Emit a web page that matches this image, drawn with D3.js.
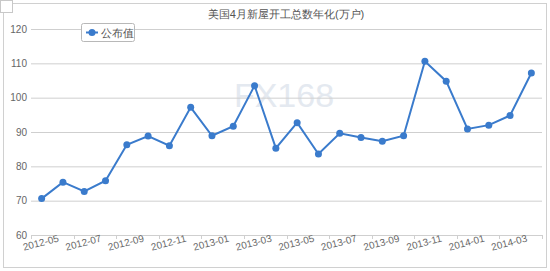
<!DOCTYPE html>
<html>
<head>
<meta charset="utf-8">
<script src="https://cdn.jsdelivr.net/npm/d3@7"></script>
<style>
  body { margin: 0; background: #fff; }
  svg { display: block; font-family: "Liberation Sans", Arial, sans-serif; }
</style>
</head>
<body>
<div id="chart"></div>
<script>
const months = ["2012-05", "2012-06", "2012-07", "2012-08", "2012-09", "2012-10", "2012-11", "2012-12",
  "2013-01", "2013-02", "2013-03", "2013-04", "2013-05", "2013-06", "2013-07", "2013-08",
  "2013-09", "2013-10", "2013-11", "2013-12", "2014-01", "2014-02", "2014-03", "2014-04"];
const values = [70.6, 75.4, 72.7, 75.8, 86.3, 88.8, 86.0, 97.2,
  88.9, 91.7, 103.5, 85.3, 92.7, 83.6, 89.6, 88.4,
  87.3, 88.9, 110.6, 104.8, 90.9, 92.0, 94.8, 107.2];
const yTicks = [60, 70, 80, 90, 100, 110, 120];
const seriesName = "公布值";
const title = "美国4月新屋开工总数年化(万户)";

const W = 550, H = 271;
const m = { top: 29, right: 8, bottom: 36, left: 31 };

const svg = d3.select("#chart").append("svg")
  .attr("width", W)
  .attr("height", H);

// outer frame + small corner square
svg.append("rect")
  .attr("x", 3.5).attr("y", 3.5)
  .attr("width", 543).attr("height", 264)
  .attr("fill", "none").attr("stroke", "#d0d0d0");
svg.append("rect")
  .attr("x", 0.5).attr("y", 0.5)
  .attr("width", 12).attr("height", 12)
  .attr("fill", "#fff").attr("stroke", "#c8c8c8");

const x = d3.scaleBand()
  .domain(months)
  .range([m.left, 542]);

const y = d3.scaleLinear()
  .domain([60, 120])
  .range([235, m.top]);

// watermark
svg.append("text")
  .attr("x", 284).attr("y", 107)
  .attr("text-anchor", "middle")
  .style("font-size", "34px")
  .style("fill", "#e4e9f0")
  .text("FX168");

// gridlines + y labels
const yAxis = svg.append("g")
  .attr("transform", `translate(${m.left},0)`)
  .call(d3.axisLeft(y).tickValues(yTicks).tickSize(-(542 - m.left)).tickPadding(4));
yAxis.select(".domain").remove();
yAxis.selectAll(".tick line").attr("stroke", "#cfcfcf");
yAxis.selectAll(".tick text")
  .style("font-size", "10px")
  .style("fill", "#666")
  .attr("x", -4);

// x axis ticks at band boundaries
const tickMonths = months.filter((d, i) => i % 2 === 0);
const xg = svg.append("g");
xg.selectAll("line.xt")
  .data(tickMonths.concat(["end"]))
  .enter().append("line")
  .attr("x1", d => d === "end" ? x.range()[1] + 0.5 : Math.round(x(d)) + 0.5)
  .attr("x2", d => d === "end" ? x.range()[1] + 0.5 : Math.round(x(d)) + 0.5)
  .attr("y1", 235)
  .attr("y2", 239)
  .attr("stroke", "#cfcfcf");

xg.selectAll("text.xl")
  .data(tickMonths)
  .enter().append("text")
  .attr("transform", d => `translate(${x(d) + x.bandwidth() / 2},246) rotate(-15)`)
  .attr("text-anchor", "middle")
  .style("font-size", "10px")
  .style("fill", "#666")
  .text(d => d);

// line
const line = d3.line()
  .x((d, i) => x(months[i]) + x.bandwidth() / 2)
  .y(d => y(d));

svg.append("path")
  .datum(values)
  .attr("fill", "none")
  .attr("stroke", "#3a7bcc")
  .attr("stroke-width", 2)
  .attr("d", line);

svg.append("g")
  .selectAll("circle")
  .data(values)
  .enter().append("circle")
  .attr("cx", (d, i) => x(months[i]) + x.bandwidth() / 2)
  .attr("cy", d => y(d))
  .attr("r", 3.5)
  .attr("fill", "#3a7bcc");

// title
svg.append("text")
  .attr("x", 286).attr("y", 18)
  .attr("text-anchor", "middle")
  .style("font-size", "11px")
  .style("fill", "#555")
  .text(title);

// legend
const lg = svg.append("g").attr("transform", "translate(81,23)");
lg.append("rect")
  .attr("x", 0.5).attr("y", 0.5)
  .attr("width", 53).attr("height", 18)
  .attr("rx", 2)
  .attr("fill", "#fff")
  .attr("stroke", "#b8b8b8");
lg.append("line")
  .attr("x1", 5).attr("x2", 17)
  .attr("y1", 9.5).attr("y2", 9.5)
  .attr("stroke", "#3a7bcc").attr("stroke-width", 2);
lg.append("circle")
  .attr("cx", 11).attr("cy", 9.5).attr("r", 3.5)
  .attr("fill", "#3a7bcc");
lg.append("text")
  .attr("x", 20).attr("y", 13.5)
  .style("font-size", "11px")
  .style("fill", "#555")
  .text(seriesName);
</script>
</body>
</html>
